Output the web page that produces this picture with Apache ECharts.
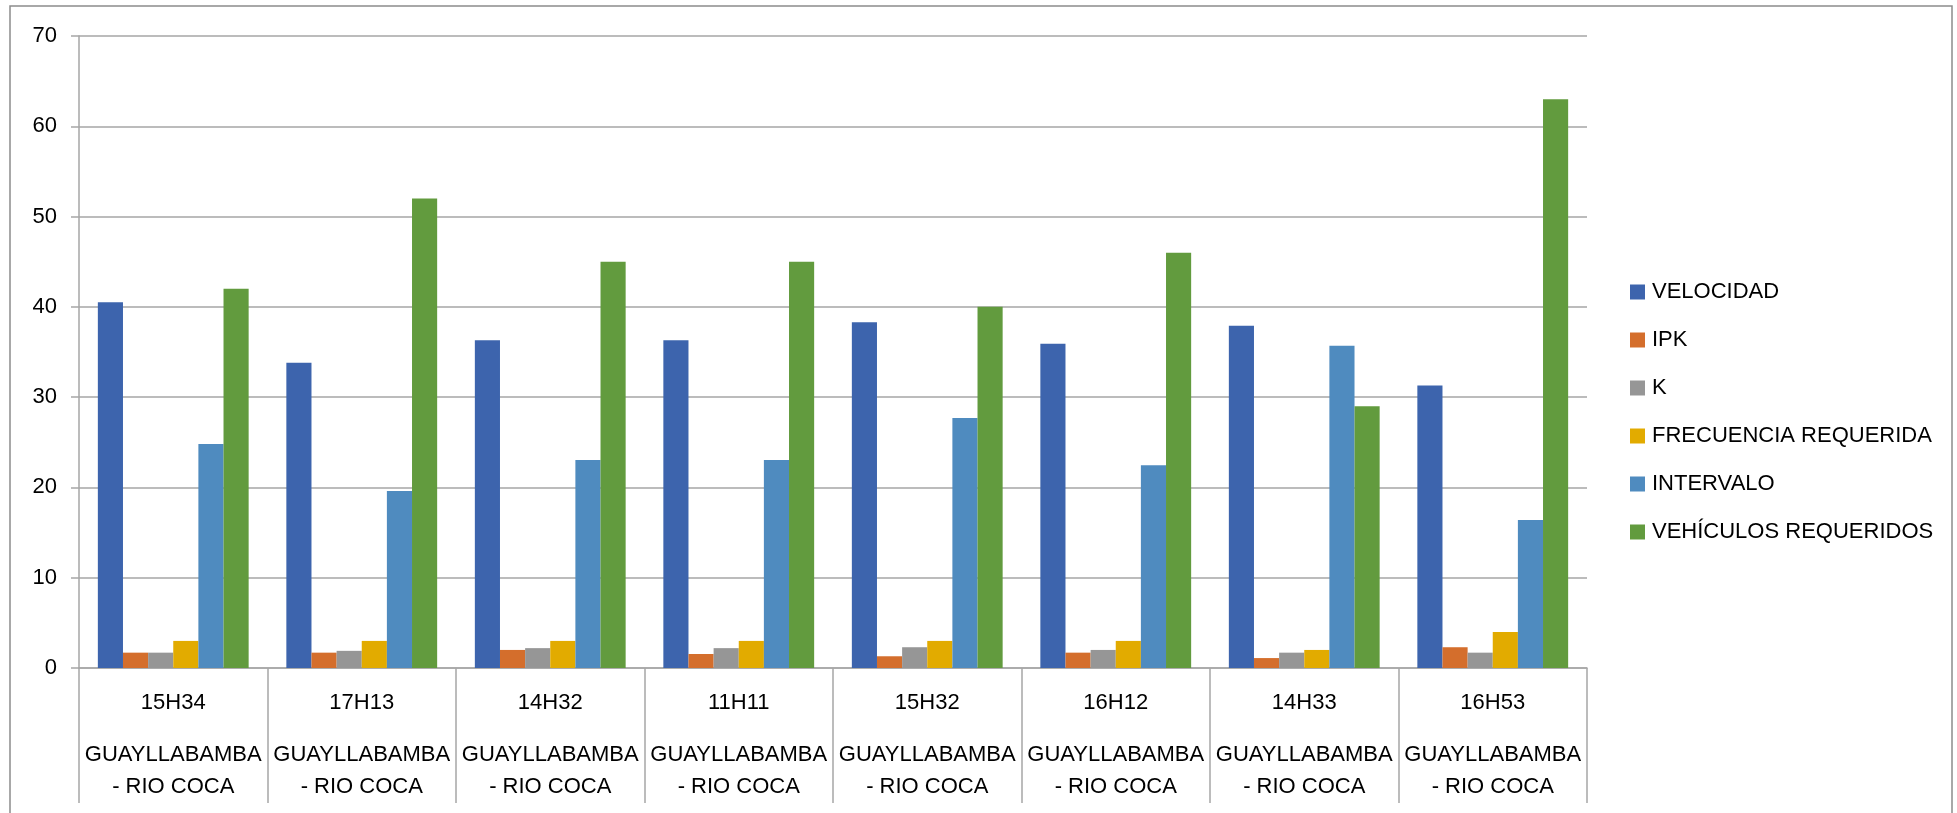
<!DOCTYPE html>
<html>
<head>
<meta charset="utf-8">
<script src="https://cdn.jsdelivr.net/npm/echarts@6/dist/echarts.min.js"></script>
<style>
  html, body { margin: 0; padding: 0; background: #fff; }
  #chart { width: 1957px; height: 813px; }
</style>
</head>
<body>
<div id="chart"></div>
<script>
// datos
var horas = ['15H34', '17H13', '14H32', '11H11', '15H32', '16H12', '14H33', '16H53'];
var rutas = ['GUAYLLABAMBA\n- RIO COCA', 'GUAYLLABAMBA\n- RIO COCA', 'GUAYLLABAMBA\n- RIO COCA', 'GUAYLLABAMBA\n- RIO COCA',
             'GUAYLLABAMBA\n- RIO COCA', 'GUAYLLABAMBA\n- RIO COCA', 'GUAYLLABAMBA\n- RIO COCA', 'GUAYLLABAMBA\n- RIO COCA'];
var nombres = ['VELOCIDAD', 'IPK', 'K', 'FRECUENCIA REQUERIDA', 'INTERVALO', 'VEHÍCULOS REQUERIDOS'];
var velocidad = [40.5, 33.8, 36.3, 36.3, 38.3, 35.9, 37.9, 31.3];
var ipk = [1.7, 1.7, 2.0, 1.55, 1.3, 1.7, 1.1, 2.3];
var k = [1.7, 1.9, 2.2, 2.2, 2.3, 2.0, 1.7, 1.7];
var frecuencia = [3, 3, 3, 3, 3, 3, 2, 4];
var intervalo = [24.8, 19.6, 23.05, 23.05, 27.7, 22.45, 35.7, 16.4];
var vehiculos = [42, 52, 45, 45, 40, 46, 29, 63];
var yTicks = [0, 10, 20, 30, 40, 50, 60, 70];

var colores = ['#3d64ad', '#d46e2c', '#969696', '#e2ab00', '#4f8bbf', '#629b3e'];
var valores = [velocidad, ipk, k, frecuencia, intervalo, vehiculos];
var fuente = 'Liberation Sans';
var gris = '#a6a6a6';

var chart = echarts.init(document.getElementById('chart'));

var series = nombres.map(function (n, i) {
    return {
        name: n,
        type: 'bar',
        data: valores[i],
        barGap: '0%',
        barCategoryGap: '20%',
        itemStyle: { color: colores[i] }
    };
});

var option = {
    backgroundColor: '#fff',
    animation: false,
    color: colores,
    textStyle: { fontFamily: fuente },
    grid: {
        left: 79,
        right: 370,
        top: 36,
        bottom: 145,
        outerBoundsMode: 'none'
    },
    legend: {
        orient: 'vertical',
        left: 1625,
        top: 276,
        itemWidth: 15,
        itemHeight: 15,
        itemGap: 26,
        icon: 'rect',
        textStyle: { fontSize: 22, color: '#000', fontFamily: fuente, padding: [0, 0, 0, 2] },
        data: nombres
    },
    xAxis: [{
        type: 'category',
        position: 'bottom',
        data: horas,
        axisLine: { lineStyle: { color: gris, width: 1.5 } },
        axisTick: { show: true, interval: 0, length: 135, lineStyle: { color: gris, width: 1.5 } },
        axisLabel: { interval: 0, margin: 24, fontSize: 22, color: '#000', fontFamily: fuente }
    }, {
        type: 'category',
        position: 'bottom',
        data: rutas,
        axisLine: { show: false },
        axisTick: { show: false },
        axisLabel: { interval: 0, margin: 71, fontSize: 22, lineHeight: 32, color: '#000', fontFamily: fuente }
    }],
    yAxis: {
        type: 'value',
        min: yTicks[0],
        max: yTicks[yTicks.length - 1],
        interval: 10,
        axisLine: { show: true, lineStyle: { color: gris, width: 1.5 } },
        axisTick: { show: true, length: 8, lineStyle: { color: gris, width: 1.5 } },
        axisLabel: { margin: 22, fontSize: 22, color: '#000', fontFamily: fuente },
        splitLine: { lineStyle: { color: gris, width: 1.5 } }
    },
    graphic: [{
        type: 'rect',
        shape: { x: 10, y: 6, width: 1942, height: 840 },
        style: { fill: 'none', stroke: '#8c8c8c', lineWidth: 1.5 },
        silent: true
    }],
    series: series
};

chart.clear();
chart.setOption(option);
</script>
</body>
</html>
